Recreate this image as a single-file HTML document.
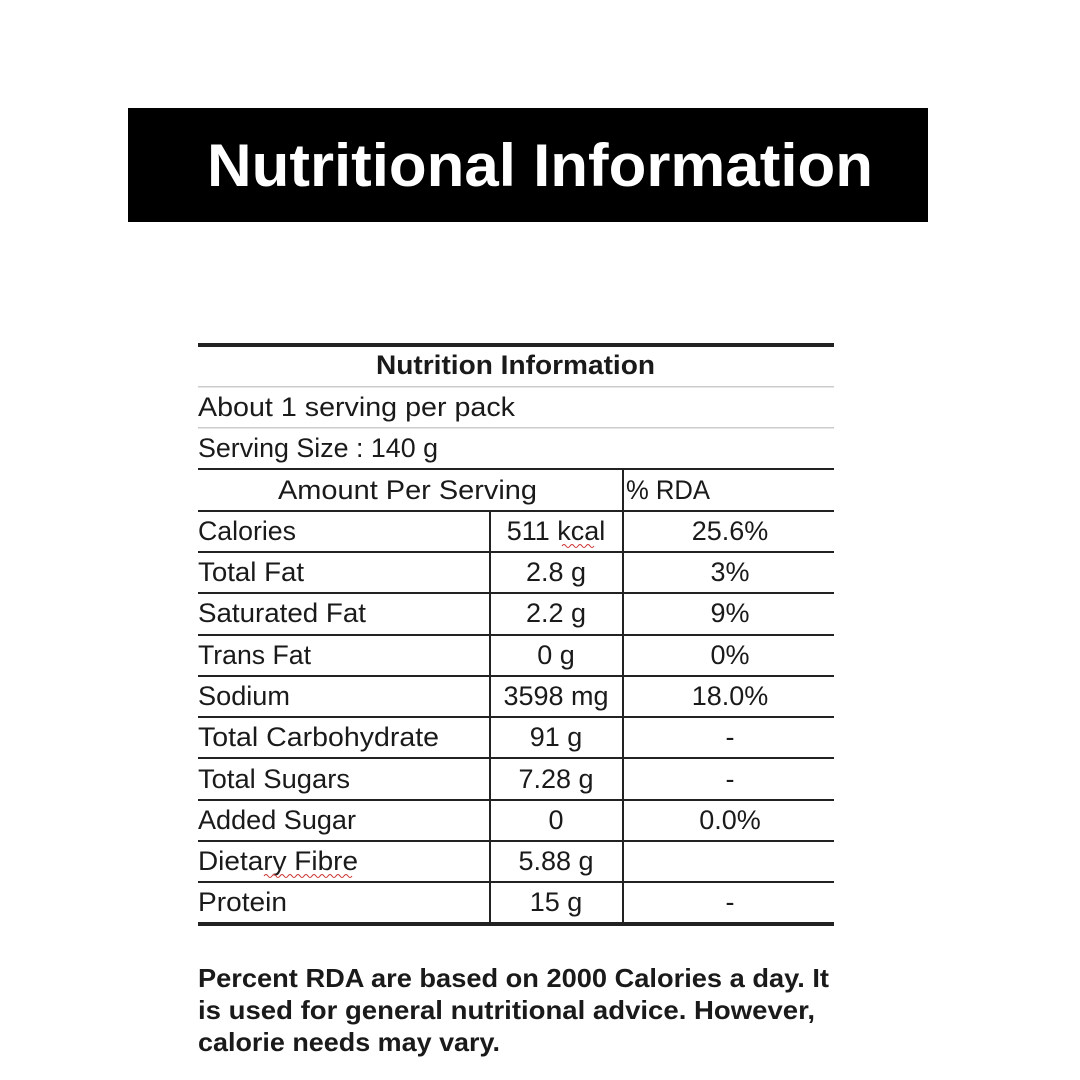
<!DOCTYPE html>
<html><head><meta charset="utf-8"><style>
html,body{margin:0;padding:0;background:#fff;}
svg{display:block;}
text{font-family:"Liberation Sans",sans-serif;fill:#1a1a1a;}
</style></head><body>
<svg width="1080" height="1080" viewBox="0 0 1080 1080" xmlns="http://www.w3.org/2000/svg">
<rect x="0" y="0" width="1080" height="1080" fill="#fff"/>
<rect x="128" y="108" width="800" height="114" fill="#000"/>
<text x="207" y="186" font-size="60" font-weight="bold" style="fill:#fff" textLength="666" lengthAdjust="spacingAndGlyphs">Nutritional Information</text>

<rect x="198" y="343" width="636" height="4" fill="#222"/>
<rect x="198" y="386" width="636" height="1.5" fill="#ccc"/>
<rect x="198" y="427" width="636" height="1.5" fill="#ccc"/>
<g fill="#222">
<rect x="198" y="468" width="636" height="2"/>
<rect x="198" y="510" width="636" height="2"/>
<rect x="198" y="551" width="636" height="2"/>
<rect x="198" y="592" width="636" height="2"/>
<rect x="198" y="634" width="636" height="2"/>
<rect x="198" y="675" width="636" height="2"/>
<rect x="198" y="716" width="636" height="2"/>
<rect x="198" y="757" width="636" height="2"/>
<rect x="198" y="799" width="636" height="2"/>
<rect x="198" y="840" width="636" height="2"/>
<rect x="198" y="881" width="636" height="2"/>
<rect x="198" y="922" width="636" height="4"/>
<rect x="489" y="511" width="2" height="413"/>
<rect x="622" y="469" width="2" height="455"/>
</g>

<g font-size="27">
<text x="376" y="374" font-weight="bold" textLength="279" lengthAdjust="spacingAndGlyphs">Nutrition Information</text>
<text x="198" y="416" textLength="317" lengthAdjust="spacingAndGlyphs">About  1 serving per pack</text>
<text x="198" y="457" textLength="240" lengthAdjust="spacingAndGlyphs">Serving Size : 140 g</text>
<text x="278" y="499" textLength="259" lengthAdjust="spacingAndGlyphs">Amount Per  Serving</text>
<text x="626" y="499" textLength="84" lengthAdjust="spacingAndGlyphs">% RDA</text>

<text x="198" y="540" textLength="98" lengthAdjust="spacingAndGlyphs">Calories</text>
<text x="198" y="581" textLength="106" lengthAdjust="spacingAndGlyphs">Total Fat</text>
<text x="198" y="622" textLength="168" lengthAdjust="spacingAndGlyphs">Saturated Fat</text>
<text x="198" y="664" textLength="113" lengthAdjust="spacingAndGlyphs">Trans Fat</text>
<text x="198" y="705" textLength="92" lengthAdjust="spacingAndGlyphs">Sodium</text>
<text x="198" y="746" textLength="241" lengthAdjust="spacingAndGlyphs">Total Carbohydrate</text>
<text x="198" y="788" textLength="152" lengthAdjust="spacingAndGlyphs">Total Sugars</text>
<text x="198" y="829" textLength="158" lengthAdjust="spacingAndGlyphs">Added Sugar</text>
<text x="198" y="870" textLength="160" lengthAdjust="spacingAndGlyphs">Dietary Fibre</text>
<text x="198" y="911" textLength="89" lengthAdjust="spacingAndGlyphs">Protein</text>

<g text-anchor="middle">
<text x="556" y="540">511 kcal</text>
<text x="556" y="581">2.8 g</text>
<text x="556" y="622">2.2 g</text>
<text x="556" y="664">0 g</text>
<text x="556" y="705">3598 mg</text>
<text x="556" y="746">91 g</text>
<text x="556" y="788">7.28 g</text>
<text x="556" y="829">0</text>
<text x="556" y="870">5.88 g</text>
<text x="556" y="911">15 g</text>

<text x="730" y="540">25.6%</text>
<text x="730" y="581">3%</text>
<text x="730" y="622">9%</text>
<text x="730" y="664">0%</text>
<text x="730" y="705">18.0%</text>
<text x="730" y="746">-</text>
<text x="730" y="788">-</text>
<text x="730" y="829">0.0%</text>
<text x="730" y="911">-</text>
</g>
</g>
<path d="M562 546 q2 -3 4 0 t4 0 t4 0 t4 0 t4 0 t4 0 t4 0 t4 0" stroke="#c33" stroke-width="1" fill="none"/>
<path d="M264 876 q2 -3 4 0 t4 0 t4 0 t4 0 t4 0 t4 0 t4 0 t4 0 t4 0 t4 0 t4 0 t4 0 t4 0 t4 0 t4 0 t4 0 t4 0 t4 0 t4 0 t4 0 t4 0 t4 0" stroke="#c33" stroke-width="1" fill="none"/>

<g font-size="26" font-weight="bold">
<text x="198" y="987" textLength="631" lengthAdjust="spacingAndGlyphs">Percent RDA are based on 2000 Calories a day. It</text>
<text x="198" y="1019" textLength="617" lengthAdjust="spacingAndGlyphs">is used for general nutritional advice. However,</text>
<text x="198" y="1051" textLength="302" lengthAdjust="spacingAndGlyphs">calorie needs may vary.</text>
</g>
</svg>
</body></html>
